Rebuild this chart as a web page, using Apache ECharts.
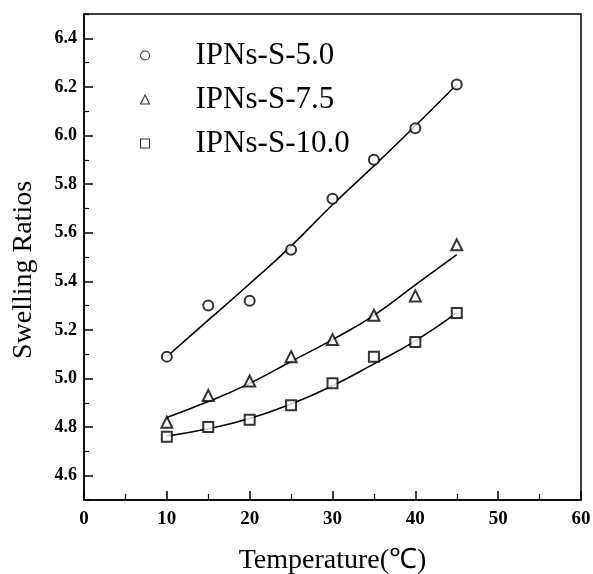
<!DOCTYPE html>
<html>
<head>
<meta charset="utf-8">
<script src="https://cdn.jsdelivr.net/npm/echarts@6/dist/echarts.min.js"></script>
<style>html,body{margin:0;padding:0;background:#fff;}#c{width:593px;height:574px;}</style>
</head>
<body>
<div id="c"></div>
<script>
const temps = [10, 15, 20, 25, 30, 35, 40, 45];
const s50 = [5.09, 5.30, 5.32, 5.53, 5.74, 5.90, 6.03, 6.21];
const s75 = [4.82, 4.93, 4.99, 5.09, 5.16, 5.26, 5.34, 5.55];
const s100 = [4.76, 4.80, 4.83, 4.89, 4.98, 5.09, 5.15, 5.27];
const fit50 = [5.09, 5.24, 5.39, 5.545, 5.715, 5.875, 6.04, 6.21];
const fit75 = [4.84, 4.905, 4.98, 5.07, 5.16, 5.26, 5.385, 5.51];
const fit100 = [4.763, 4.793, 4.835, 4.895, 4.97, 5.06, 5.155, 5.27];
const names = ['IPNs-S-5.0', 'IPNs-S-7.5', 'IPNs-S-10.0'];
const symbols = ['emptyCircle', 'emptyTriangle', 'emptyRect'];
const yMajor = [4.6, 4.8, 5.0, 5.2, 5.4, 5.6, 5.8, 6.0, 6.2, 6.4];
const yMinor = [4.5, 4.7, 4.9, 5.1, 5.3, 5.5, 5.7, 5.9, 6.1, 6.3, 6.5];

const font = 'Liberation Serif';
const pts = (ys) => temps.map((t, i) => [t, ys[i]]);
const scatterData = [s50, s75, s100];
const fitData = [fit50, fit75, fit100];

const series = [];
scatterData.forEach((d, i) => {
  series.push({
    name: names[i], type: 'scatter', data: pts(d),
    symbol: symbols[i], symbolSize: i === 1 ? 11 : 10,
    itemStyle: { color: '#000', borderColor: '#000', borderWidth: 1.1 },
    z: 3
  });
});
fitData.forEach((d, i) => {
  series.push({
    name: 'fit' + i, type: 'line', data: pts(d), smooth: 0.5,
    showSymbol: false, symbol: 'none',
    lineStyle: { color: '#000', width: 1.6 }, z: 2
  });
});

const chart = echarts.init(document.getElementById('c'), null, { renderer: 'canvas' });
chart.setOption({
  animation: false,
  backgroundColor: '#fff',
  grid: { left: 84, right: 12, top: 14, bottom: 74, containLabel: false, outerBoundsMode: 'none',
    show: true, borderColor: '#000', borderWidth: 1.5, backgroundColor: 'transparent' },
  legend: {
    data: names.map((n, i) => ({ name: n, icon: ['circle', 'triangle', 'rect'][i] })),
    orient: 'vertical', left: 140, top: 40, padding: 0,
    itemWidth: 9, itemHeight: 9, itemGap: 13,
    itemStyle: { color: '#fff', borderColor: '#000', borderWidth: 1.1 },
    textStyle: { fontFamily: font, fontSize: 31, color: '#000', lineHeight: 30, padding: [0, 0, 0, 41] }
  },
  xAxis: {
    type: 'value', min: 0, max: 60, interval: 10,
    name: 'Temperature(℃)', nameLocation: 'middle', nameGap: 47,
    nameTextStyle: { fontFamily: font, fontSize: 28, color: '#000' },
    axisLine: { show: true, lineStyle: { color: '#000', width: 1.5 } },
    axisTick: { show: true, inside: true, length: 9, lineStyle: { color: '#000', width: 1.5 } },
    minorTick: { show: true, splitNumber: 2, length: 6, lineStyle: { color: '#000', width: 1.2 } },
    axisLabel: { fontFamily: font, fontWeight: 'bold', fontSize: 19, color: '#000', margin: 10 },
    splitLine: { show: false }
  },
  yAxis: [{
    type: 'value', min: 4.5, max: 6.5,
    name: 'Swelling Ratios', nameLocation: 'middle', nameGap: 46, nameRotate: 90,
    nameTextStyle: { fontFamily: font, fontSize: 28, color: '#000', padding: [0, 26, 0, 0] },
    axisLine: { show: true, lineStyle: { color: '#000', width: 1.5 } },
    axisTick: { show: true, inside: true, length: 9, customValues: yMajor, lineStyle: { color: '#000', width: 1.5 } },
    axisLabel: { customValues: yMajor, fontFamily: font, fontWeight: 'bold', fontSize: 18, color: '#000', margin: 7,
      formatter: (v) => v.toFixed(1) },
    splitLine: { show: false }
  }, {
    type: 'value', min: 4.5, max: 6.5, position: 'left',
    axisLine: { show: false },
    axisTick: { show: true, inside: true, length: 5, customValues: yMinor, lineStyle: { color: '#000', width: 1.2 } },
    axisLabel: { show: false },
    splitLine: { show: false }
  }],
  series: series
});
</script>
</body>
</html>
